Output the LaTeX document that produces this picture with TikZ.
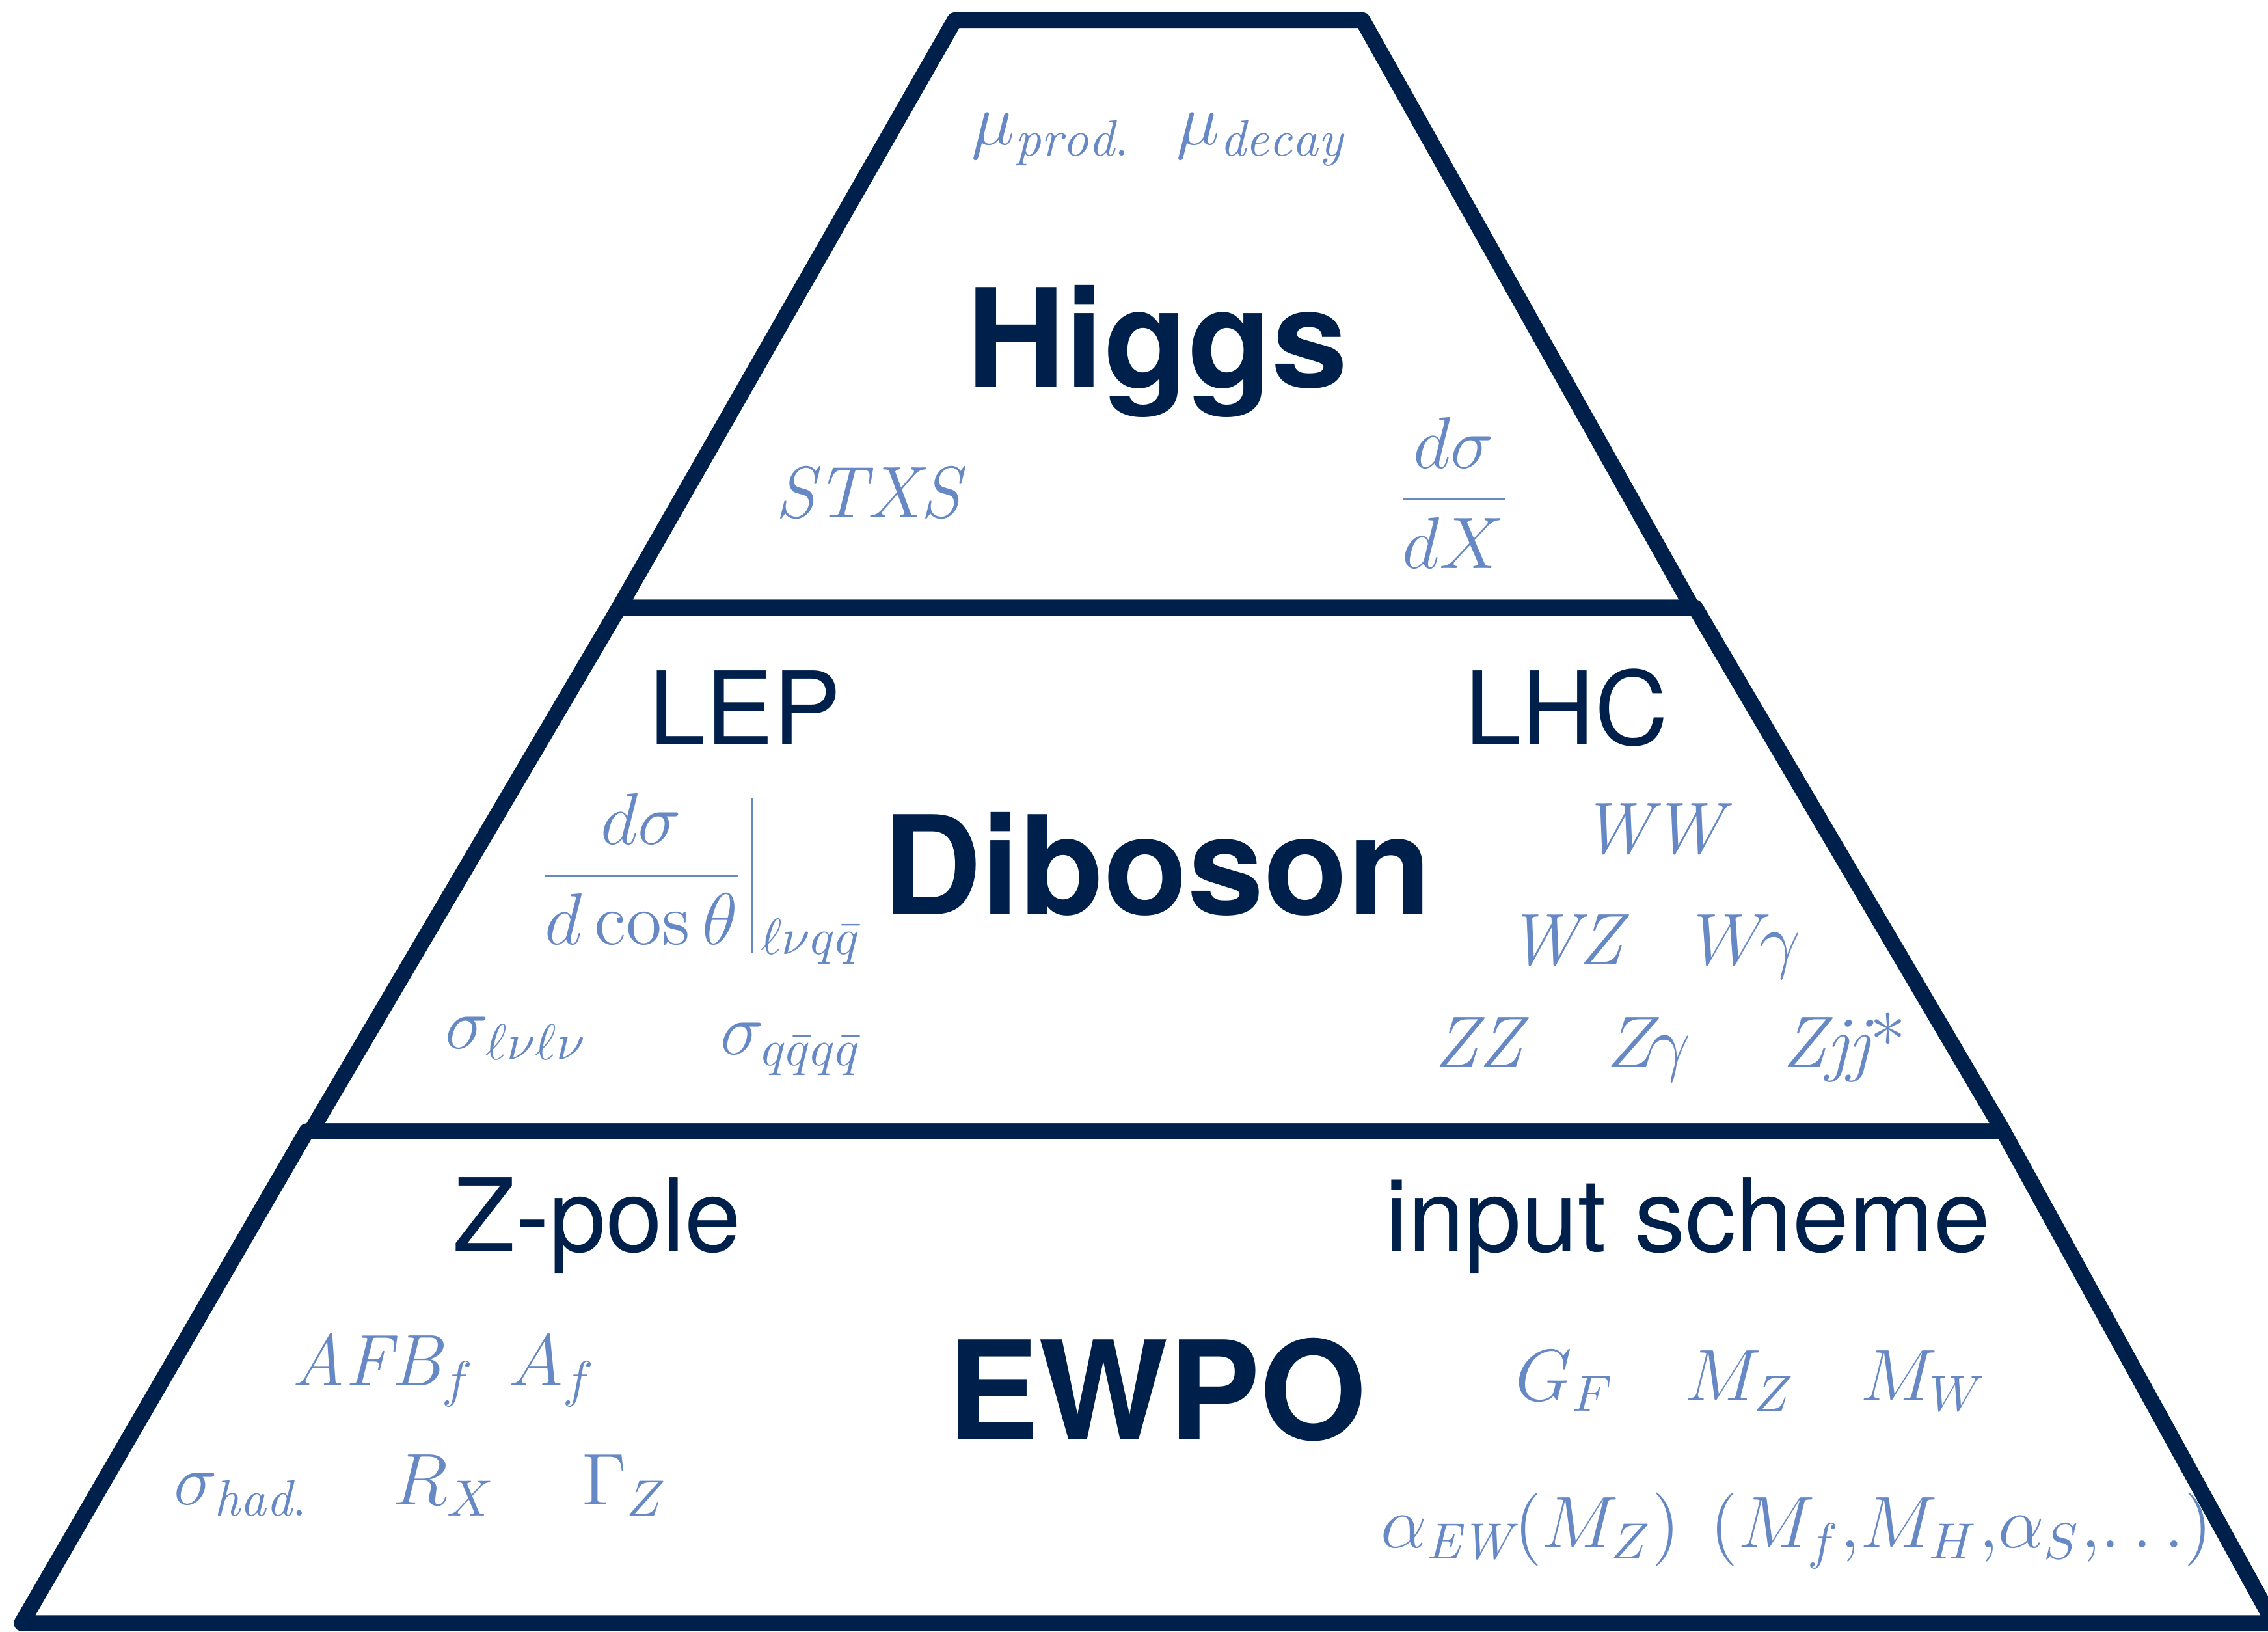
\documentclass[tikz,border=0pt]{standalone}
\usepackage{fontspec}
\setsansfont{TeX Gyre Heros}
\definecolor{navy}{RGB}{0,32,76}
\definecolor{obsblue}{RGB}{102,136,196}
\begin{document}
\begin{tikzpicture}[line width=3.1pt,line join=round,
    tier/.style={font=\sffamily\bfseries\fontsize{27}{32}\selectfont,text=navy,anchor=base},
    src/.style={font=\sffamily\fontsize{20}{24}\selectfont,text=navy,anchor=base},
    obs/.style={font=\fontsize{14.4}{17}\selectfont,text=obsblue,anchor=base,inner sep=1pt}]
  \useasboundingbox (0,0) rectangle (15.68,11.28);
  \fill[white] (0,0) rectangle (15.68,11.28);
  \draw[navy] (6.60,11.14) -- (9.42,11.14) -- (11.70,7.08) -- (4.28,7.08) -- cycle;
  \draw[navy] (4.28,7.08) -- (11.72,7.08) -- (13.85,3.46) -- (2.15,3.46) -- cycle;
  \draw[navy] (2.12,3.46) -- (13.85,3.46) -- (15.72,0.06) -- (0.15,0.06) -- cycle;
  \node[obs] (mup) at (7.27,10.28) {$\mu_{\mathit{prod.}}$};
  \node[obs] (mud) at (8.72,10.28) {$\mu_{\mathit{decay}}$};
  \node[tier] (H) at (8.00,8.60) {Higgs};
  \node[obs] (stxs) at (6.00,7.70) {$\mathit{STXS}$};
  \node[obs] (dX) at (10.05,7.70) {$\displaystyle\frac{d\sigma}{dX}$};
  \node[src] (lep) at (5.15,6.13) {LEP};
  \node[src] (lhc) at (10.83,6.13) {LHC};
  \node[tier] (D) at (8.00,4.96) {Diboson};
  \node[obs] (dcos) at (4.82,5.10)
    {$\displaystyle\left.\frac{d\sigma}{d\cos\theta}\right|_{\ell\nu q\bar q}$};
  \node[obs] (sll) at (3.57,4.03) {$\sigma_{\ell\nu\ell\nu}$};
  \node[obs] (sqq) at (5.47,3.99) {$\sigma_{q\bar qq\bar q}$};
  \node[obs] (ww) at (11.42,5.38) {$\mathit{WW}$};
  \node[obs] (wz) at (10.82,4.61) {$\mathit{WZ}$};
  \node[obs] (wa) at (12.08,4.61) {$W\!\gamma$};
  \node[obs] (zz) at (10.22,3.90) {$\mathit{ZZ}$};
  \node[obs] (za) at (11.40,3.90) {$Z\!\gamma$};
  \node[obs] (zjj) at (12.75,3.90) {$\mathit{Zjj}$*};
  \node[src] (zp) at (4.13,2.63) {Z-pole};
  \node[src] (inp) at (11.67,2.63) {input scheme};
  \node[tier] (E) at (8.00,1.33) {EWPO};
  \node[obs] (afb) at (2.65,1.70) {$\mathit{AFB}_f$};
  \node[obs] (af) at (3.82,1.70) {$A_f$};
  \node[obs] (shad) at (1.67,0.88) {$\sigma_{\mathit{had.}}$};
  \node[obs] (rx) at (3.07,0.88) {$R_X$};
  \node[obs] (gz) at (4.32,0.88) {$\Gamma_Z$};
  \node[obs] (gf) at (10.82,1.60) {$G_F$};
  \node[obs] (mz) at (12.03,1.60) {$M_Z$};
  \node[obs] (mw) at (13.30,1.60) {$M_W$};
  \node[obs] (aew) at (10.58,0.58) {$\alpha_{\mathit{EW}}(M_Z)$};
  \node[obs] (rest) at (13.56,0.58) {$(M_f,\!M_H,\!\alpha_S,\!\ldots)$};
\end{tikzpicture}
\end{document}
